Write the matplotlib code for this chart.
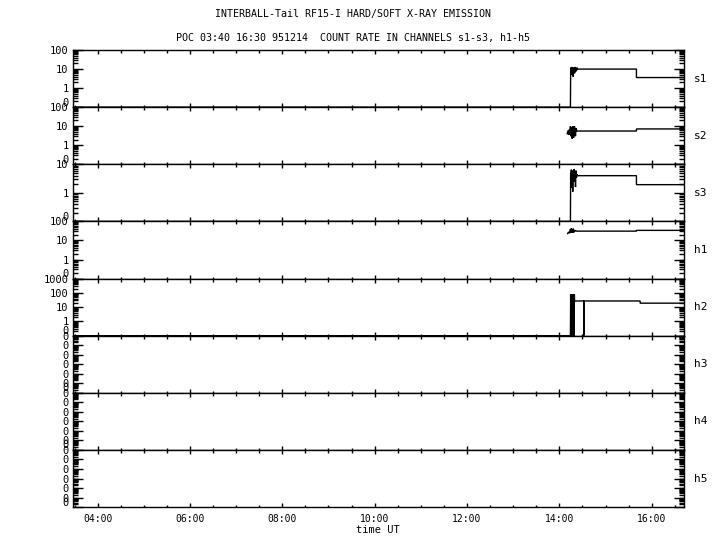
"""
INTERBALL-Tail RF15-I hard/soft X-ray emission: count rates in channels
s1-s3, h1-h5 on eight stacked log panels sharing one UT time axis.
"""

import numpy as np
import matplotlib
matplotlib.use("Agg")
import matplotlib.pyplot as plt
from matplotlib.ticker import FixedLocator, LogLocator, MultipleLocator, FuncFormatter
from matplotlib.transforms import ScaledTranslation

# time axis (decimal hours UT)
T_START = 3.46
T_END = 16.70

# channel names and their log ranges (bottom, top); bottom is drawn as "0"
channels = ["s1", "s2", "s3", "h1", "h2", "h3", "h4", "h5"]
y_lo = [0.1, 0.1, 0.1, 0.1, 0.1, 1e-6, 1e-6, 1e-6]
y_hi = [100, 100, 10, 100, 1000, 1, 1, 1]

# count rates (0 = no counts, drawn on the floor)
s1_time = [3.46, 14.24, 14.245, 14.25, 14.26, 14.27, 14.28, 14.29, 14.30, 14.31,
           14.32, 14.33, 14.34, 14.35, 14.36, 14.37, 14.38, 14.39, 15.67, 15.67, 16.70]
s1_rate = [0, 0, 7, 12, 5, 13, 8, 11, 4, 12,
           9, 6, 13, 7, 11, 8, 12, 10, 10, 3.6, 3.6]

s2_time = [14.17, 14.19, 14.21, 14.22, 14.23, 14.24, 14.25, 14.26, 14.27, 14.28,
           14.29, 14.30, 14.31, 14.32, 14.33, 14.34, 14.35, 14.36, 14.38, 14.40,
           15.67, 15.67, 16.70]
s2_rate = [4, 6, 3.5, 7, 5, 10, 3, 9, 5, 2.2,
           10, 6, 2.5, 9, 10, 5, 3, 8, 5.6, 5.6,
           5.6, 7.2, 7.2]

s3_time = [3.46, 14.24, 14.245, 14.25, 14.26, 14.27, 14.28, 14.29, 14.30, 14.31,
           14.32, 14.33, 14.34, 14.35, 14.36, 14.37, 14.38, 14.39, 15.67, 15.67, 16.70]
s3_rate = [0, 0, 5, 1.5, 6.5, 2, 6, 1.1, 5.5, 3, 6.7,
           2.5, 5.5, 1.6, 6, 3.5, 4.5, 4, 4, 1.94, 1.94]

h1_time = [14.18, 14.20, 14.22, 14.24, 14.25, 14.26, 14.27, 14.28, 14.29, 14.30,
           14.31, 14.32, 14.33, 14.35, 14.37, 15.67, 15.67, 16.70]
h1_rate = [23, 28, 24, 40, 26, 43, 25, 38, 27, 42,
           26, 36, 30, 33, 31, 31, 34, 34]

h2_time = [3.46, 14.24, 14.245, 14.25, 14.255, 14.26, 14.265, 14.27, 14.275, 14.28,
           14.285, 14.29, 14.295, 14.30, 14.305, 14.31, 14.315, 14.32, 14.325, 14.33,
           14.53, 14.53, 14.53, 15.75, 15.75, 16.70]
h2_rate = [0, 0, 78, 0, 70, 0, 78, 0, 65, 0,
           78, 0, 72, 0, 78, 0, 75, 0, 78, 27,
           27, 0, 27, 27, 19, 19]

series = {
    "s1": (s1_time, s1_rate),
    "s2": (s2_time, s2_rate),
    "s3": (s3_time, s3_rate),
    "h1": (h1_time, h1_rate),
    "h2": (h2_time, h2_rate),
}

FONT = "DejaVu Sans Mono"
plt.rcParams["font.family"] = FONT
plt.rcParams["axes.linewidth"] = 1.0


def hhmm(h, pos=None):
    hh = int(h)
    mm = int(round((h - hh) * 60))
    return f"{hh:02d}:{mm:02d}"


fig, axes = plt.subplots(len(channels), 1, figsize=(7.2, 5.5), dpi=100, sharex=True)
fig.subplots_adjust(left=0.101, right=0.950, top=0.909, bottom=0.078, hspace=0)

for i, (ax, name) in enumerate(zip(axes, channels)):
    lo, hi = y_lo[i], y_hi[i]
    ax.set_yscale("log")
    ax.set_ylim(lo, hi)
    ax.set_xlim(T_START, T_END)

    if name in series:
        t, r = series[name]
        r = np.asarray(r, dtype=float)
        r = np.where(r <= 0, lo, r)
        ax.plot(t, r, color="black", lw=1.0, solid_joinstyle="miter")

    # y ticks: decades, bottom labelled "0"
    decades = np.logspace(np.log10(lo), np.log10(hi), int(round(np.log10(hi / lo))) + 1)
    ax.yaxis.set_major_locator(FixedLocator(decades))
    ax.yaxis.set_minor_locator(LogLocator(base=10, subs=np.arange(2, 10), numticks=50))
    if lo < 0.01:
        labels = ["0"] * len(decades)
    else:
        labels = ["0"] + [f"{d:g}" for d in decades[1:]]
    ax.set_yticks(decades)
    ax.set_yticklabels(labels)
    ax.yaxis.set_minor_formatter(plt.NullFormatter())
    ax.tick_params(axis="y", which="major", direction="in", length=7.5, width=1.0,
                   left=True, right=True, labelsize=7.5, pad=3)
    ax.tick_params(axis="y", which="minor", direction="in", length=3.8, width=1.0,
                   left=True, right=True)
    ax.get_yticklabels()[0].set_transform(
        ax.get_yticklabels()[0].get_transform()
        + ScaledTranslation(0, 4 / 72, fig.dpi_scale_trans))

    # x ticks: labels every 2 h, minor every 30 min, pointing in top and bottom
    ax.xaxis.set_major_locator(MultipleLocator(2))
    ax.xaxis.set_minor_locator(MultipleLocator(0.5))
    ax.xaxis.set_major_formatter(FuncFormatter(hhmm))
    ax.tick_params(axis="x", which="major", direction="in", length=3.2, width=1.0,
                   top=True, bottom=True, labelsize=7, pad=5)
    ax.tick_params(axis="x", which="minor", direction="in", length=1.8, width=1.0,
                   top=True, bottom=True)

    ax.text(1.016, 0.5, name, transform=ax.transAxes, ha="left", va="center",
            fontsize=8, family=FONT)

axes[-1].set_xlabel("time UT", fontsize=7.5, labelpad=1)

fig.text(0.49, 1 - 14 / 550, "INTERBALL-Tail RF15-I HARD/SOFT X-RAY EMISSION",
         ha="center", va="center", fontsize=7.2)
fig.text(0.49, 1 - 38 / 550, "POC 03:40 16:30 951214  COUNT RATE IN CHANNELS s1-s3, h1-h5",
         ha="center", va="center", fontsize=7.2)

fig.savefig("out.png", dpi=100)
